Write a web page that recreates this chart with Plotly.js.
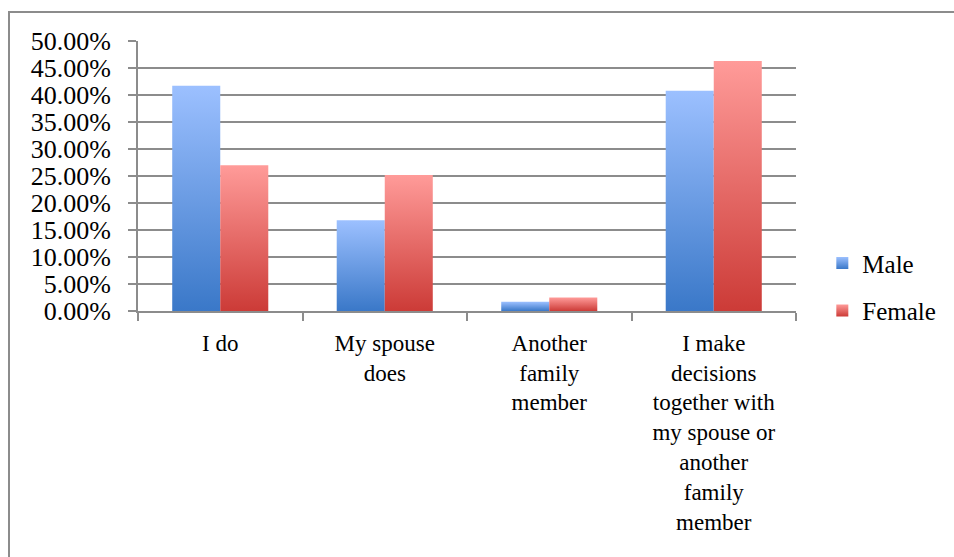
<!DOCTYPE html>
<html>
<head>
<meta charset="utf-8">
<script src="https://cdn.plot.ly/plotly-3.0.1.min.js"></script>
<style>
  html, body { margin: 0; padding: 0; width: 954px; height: 557px; overflow: hidden; background: #fff; }
  #frame { position: absolute; left: 8px; top: 11px; width: 1000px; height: 600px; border: 2px solid #8c8c8c; }
  #chart { position: absolute; left: 0; top: 0; width: 954px; height: 557px; }
</style>
</head>
<body>
<div id="frame"></div>
<div id="chart"></div>
<script>
const categories = [
  "I do",
  "My spouse<br>does",
  "Another<br>family<br>member",
  "I make<br>decisions<br>together with<br>my spouse or<br>another<br>family<br>member"
];
const maleValues = [0.417, 0.168, 0.017, 0.408];
const femaleValues = [0.270, 0.252, 0.025, 0.463];
const seriesNames = ["Male", "Female"];

const FONT = "Liberation Serif";

const traces = [
  { type: "bar", name: seriesNames[0], x: categories, y: maleValues,
    marker: { color: "#6a9be3" }, legendgroup: "m", hoverinfo: "none" },
  { type: "bar", name: seriesNames[1], x: categories, y: femaleValues,
    marker: { color: "#e86a69" }, legendgroup: "f", hoverinfo: "none" }
];

const layout = {
  width: 954, height: 557,
  margin: { l: 138, r: 158, t: 41, b: 246 },
  paper_bgcolor: "rgba(0,0,0,0)",
  plot_bgcolor: "rgba(0,0,0,0)",
  font: { family: FONT, color: "#000", size: 22 },
  barmode: "group",
  bargap: 0.416,
  bargroupgap: 0,
  showlegend: true,
  legend: {
    x: 1.04, xanchor: "left", y: 0.09, yanchor: "middle",
    font: { family: FONT, size: 25, color: "#000" },
    tracegroupgap: 12, traceorder: "grouped",
    bgcolor: "rgba(0,0,0,0)", itemclick: false
  },
  xaxis: {
    type: "category",
    showline: true, linecolor: "#8c8c8c", linewidth: 2,
    ticks: "outside", ticklen: 8, tickcolor: "#8c8c8c", tickwidth: 2,
    tickson: "boundaries",
    showgrid: false,
    tickfont: { family: FONT, size: 23, color: "#000" },
    tickangle: 0,
    ticklabelstandoff: 10
  },
  yaxis: {
    range: [0, 0.5], dtick: 0.05, tick0: 0,
    tickformat: ".2%",
    showline: true, linecolor: "#8c8c8c", linewidth: 2,
    ticks: "outside", ticklen: 8, tickcolor: "#8c8c8c", tickwidth: 2,
    showgrid: true, gridcolor: "#8c8c8c", gridwidth: 2,
    zeroline: false,
    tickfont: { family: FONT, size: 26, color: "#000" },
    ticklabelstandoff: 12
  }
};

Plotly.newPlot("chart", traces, layout, { staticPlot: true, displayModeBar: false }).then(function (gd) {
  const svg = gd.querySelector("svg.main-svg");
  const ns = "http://www.w3.org/2000/svg";
  let defs = svg.querySelector("defs");
  if (!defs) { defs = document.createElementNS(ns, "defs"); svg.insertBefore(defs, svg.firstChild); }
  function grad(id, top, bottom) {
    const g = document.createElementNS(ns, "linearGradient");
    g.setAttribute("id", id);
    g.setAttribute("x1", "0"); g.setAttribute("y1", "0");
    g.setAttribute("x2", "0"); g.setAttribute("y2", "1");
    const s1 = document.createElementNS(ns, "stop");
    s1.setAttribute("offset", "0"); s1.setAttribute("stop-color", top);
    const s2 = document.createElementNS(ns, "stop");
    s2.setAttribute("offset", "1"); s2.setAttribute("stop-color", bottom);
    g.appendChild(s1); g.appendChild(s2); defs.appendChild(g);
  }
  grad("gMale", "#9cc0ff", "#3a78c8");
  grad("gFemale", "#ff9b99", "#cc3b37");
  const ids = ["gMale", "gFemale"];
  gd.querySelectorAll(".barlayer .trace.bars").forEach(function (t, i) {
    t.querySelectorAll("path").forEach(function (p) { p.style.fill = "url(#" + ids[i] + ")"; });
  });
  gd.querySelectorAll(".legend .traces").forEach(function (t, i) {
    t.querySelectorAll(".legendpoints path").forEach(function (p) { p.style.fill = "url(#" + ids[i] + ")"; });
  });
});
</script>
</body>
</html>
